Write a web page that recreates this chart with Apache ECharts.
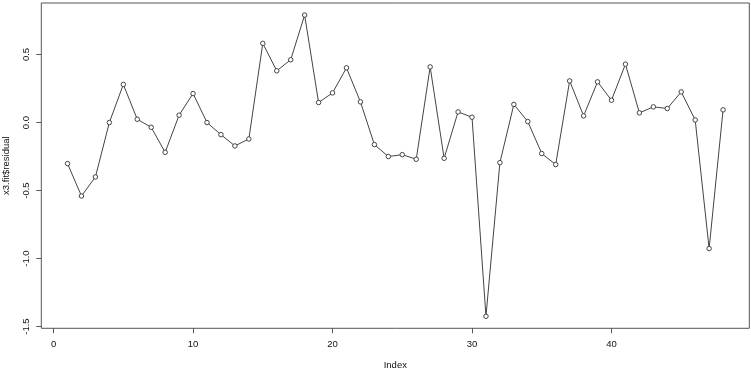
<!DOCTYPE html>
<html>
<head>
<meta charset="utf-8">
<script src="https://cdn.jsdelivr.net/npm/echarts@6/dist/echarts.min.js"></script>
<style>html,body{margin:0;padding:0;background:#fff;}#c{width:751px;height:370px;}</style>
</head>
<body>
<div id="c"></div>
<script>
var indexValues = [1,2,3,4,5,6,7,8,9,10,11,12,13,14,15,16,17,18,19,20,21,22,23,24,25,26,27,28,29,30,31,32,33,34,35,36,37,38,39,40,41,42,43,44,45,46,47,48];
var residuals = [-0.302,-0.540,-0.400,0.000,0.280,0.024,-0.035,-0.219,0.054,0.213,
  0.000,-0.089,-0.172,-0.121,0.582,0.380,0.461,0.790,0.147,0.218,
  0.402,0.152,-0.162,-0.250,-0.236,-0.270,0.409,-0.263,0.078,0.039,
  -1.424,-0.295,0.133,0.007,-0.228,-0.309,0.306,0.049,0.299,0.164,
  0.429,0.071,0.115,0.103,0.225,0.019,-0.926,0.093];
var xTicks = [0,10,20,30,40];
var yTicks = [-1.5,-1.0,-0.5,0.0,0.5];

function padRange(arr){
  var mn = Math.min.apply(null, arr), mx = Math.max.apply(null, arr);
  var d = (mx - mn) * 0.04;
  return [mn - d, mx + d];
}
var xr = padRange(indexValues), yr = padRange(residuals);
var font = 'Liberation Sans, Arial, sans-serif';

var chart = echarts.init(document.getElementById('c'), null, {renderer:'canvas'});
chart.setOption({
  animation:false,
  backgroundColor:'#fff',
  grid:{left:41.3, right:1.7, top:3, bottom:41.7, containLabel:false, outerBoundsMode:'none',
    show:true, borderColor:'#555', borderWidth:1, backgroundColor:'transparent'},
  xAxis:{
    type:'value', min:xr[0], max:xr[1],
    name:'Index', nameLocation:'middle', nameGap:32,
    nameTextStyle:{color:'#111', fontSize:9.5, fontFamily:font},
    axisLine:{show:false, onZero:false},
    splitLine:{show:false},
    axisTick:{show:true, inside:false, length:5, customValues:xTicks, lineStyle:{color:'#555'}},
    axisLabel:{customValues:xTicks, margin:11, color:'#111', fontSize:9.5, fontFamily:font}
  },
  yAxis:{
    type:'value', min:yr[0], max:yr[1],
    name:'x3.fit$residual', nameLocation:'middle', nameGap:30, nameRotate:90,
    nameTextStyle:{color:'#111', fontSize:9.5, fontFamily:font},
    axisLine:{show:false, onZero:false},
    splitLine:{show:false},
    axisTick:{show:true, inside:false, length:5, customValues:yTicks, lineStyle:{color:'#555'}},
    axisLabel:{customValues:yTicks, rotate:90, margin:10, color:'#111', fontSize:9.5, fontFamily:font,
      formatter:function(v){return v.toFixed(1);}}
  },
  series:[{
    type:'line',
    data:indexValues.map(function(x,i){return [x, residuals[i]];}),
    symbol:'circle', symbolSize:4.5, showAllSymbol:true,
    lineStyle:{color:'#444', width:1},
    itemStyle:{color:'#fff', borderColor:'#444', borderWidth:1}
  }]
});
</script>
</body>
</html>
